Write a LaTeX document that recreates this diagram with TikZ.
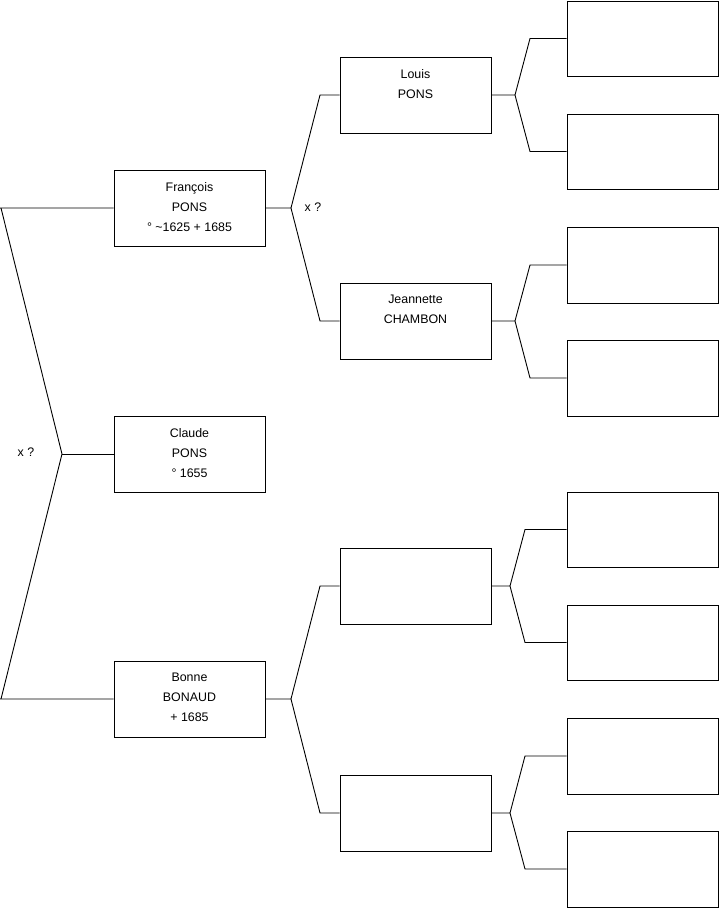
\documentclass[tikz,border=0pt]{standalone}
\usepackage{fontspec}
\setmainfont{Liberation Sans}
\begin{document}
\begin{tikzpicture}[x=1pt,y=-1pt,
  box/.style={draw=black, line width=0.9pt, minimum width=151pt, minimum height=76pt, inner sep=0pt},
  txt/.style={anchor=north, inner sep=0pt, align=center, font=\fontsize{12.4}{20}\selectfont},
  lbl/.style={inner sep=0pt, font=\fontsize{12.4}{14}\selectfont},
  link/.style={draw=black, line width=0.9pt, line join=miter}]
\useasboundingbox (0,0) rectangle (719,908);
% generation 1
\node[box] (fr) at (189.5,208) {};
\node[box] (cl) at (189.5,454) {};
\node[box] (bo) at (189.5,699) {};
% generation 2
\node[box] (lo) at (415.5,95) {};
\node[box] (je) at (415.5,321) {};
\node[box] (e1) at (415.5,586) {};
\node[box] (e2) at (415.5,813) {};
% generation 3
\node[box, minimum height=75pt] (r1) at (642.5,38.5) {};
\node[box, minimum height=75pt] (r2) at (642.5,151.5) {};
\node[box] (r3) at (642.5,265) {};
\node[box] (r4) at (642.5,378) {};
\node[box, minimum height=75pt] (r5) at (642.5,529.5) {};
\node[box, minimum height=75pt] (r6) at (642.5,642.5) {};
\node[box] (r7) at (642.5,756) {};
\node[box] (r8) at (642.5,869) {};
% texts
\node[txt] (tfr) at ([yshift=-12.5pt]fr.north) {François\\PONS\\° \textasciitilde1625 + 1685};
\node[txt] (tcl) at ([yshift=-12.5pt]cl.north) {Claude\\PONS\\° 1655};
\node[txt] (tbo) at ([yshift=-12.5pt]bo.north) {Bonne\\BONAUD\\+ 1685};
\node[txt] (tlo) at ([yshift=-12.5pt]lo.north) {Louis\\PONS};
\node[txt] (tje) at ([yshift=-12.5pt]je.north) {Jeannette\\CHAMBON};
\node[lbl] (x1) at (26,452) {x ?};
\node[lbl] (x2) at (313,207) {x ?};
% coordinates
\coordinate (ta) at (1,208);
\coordinate (jc) at (62,454);
\coordinate (tb) at (1,699);
\coordinate (jf) at (291,208);
\coordinate (jfa) at (320,95);
\coordinate (jfb) at (320,321);
\coordinate (jb) at (291,699);
\coordinate (jba) at (320,586);
\coordinate (jbb) at (320,813);
\coordinate (jl) at (515,95);
\coordinate (jla) at (530,38.5);
\coordinate (jlb) at (530,151.5);
\coordinate (jj) at (515,321);
\coordinate (jja) at (530,265);
\coordinate (jjb) at (530,378);
\coordinate (j1) at (510,586);
\coordinate (j1a) at (525,529.5);
\coordinate (j1b) at (525,642.5);
\coordinate (j2) at (510,813);
\coordinate (j2a) at (525,756);
\coordinate (j2b) at (525,869);
% connectors
\draw[link] (fr.west) -- (0,208) (ta) -- (jc) -- (tb) (0,699) -- (bo.west);
\draw[link] (jc) -- (cl.west);
\draw[link] (fr.east) -- (jf) -- (jfa) -- (lo.west);
\draw[link] (jf) -- (jfb) -- (je.west);
\draw[link] (bo.east) -- (jb) -- (jba) -- (e1.west);
\draw[link] (jb) -- (jbb) -- (e2.west);
\draw[link] (lo.east) -- (jl) -- (jla) -- (r1.west);
\draw[link] (jl) -- (jlb) -- (r2.west);
\draw[link] (je.east) -- (jj) -- (jja) -- (r3.west);
\draw[link] (jj) -- (jjb) -- (r4.west);
\draw[link] (e1.east) -- (j1) -- (j1a) -- (r5.west);
\draw[link] (j1) -- (j1b) -- (r6.west);
\draw[link] (e2.east) -- (j2) -- (j2a) -- (r7.west);
\draw[link] (j2) -- (j2b) -- (r8.west);
\end{tikzpicture}
\end{document}
